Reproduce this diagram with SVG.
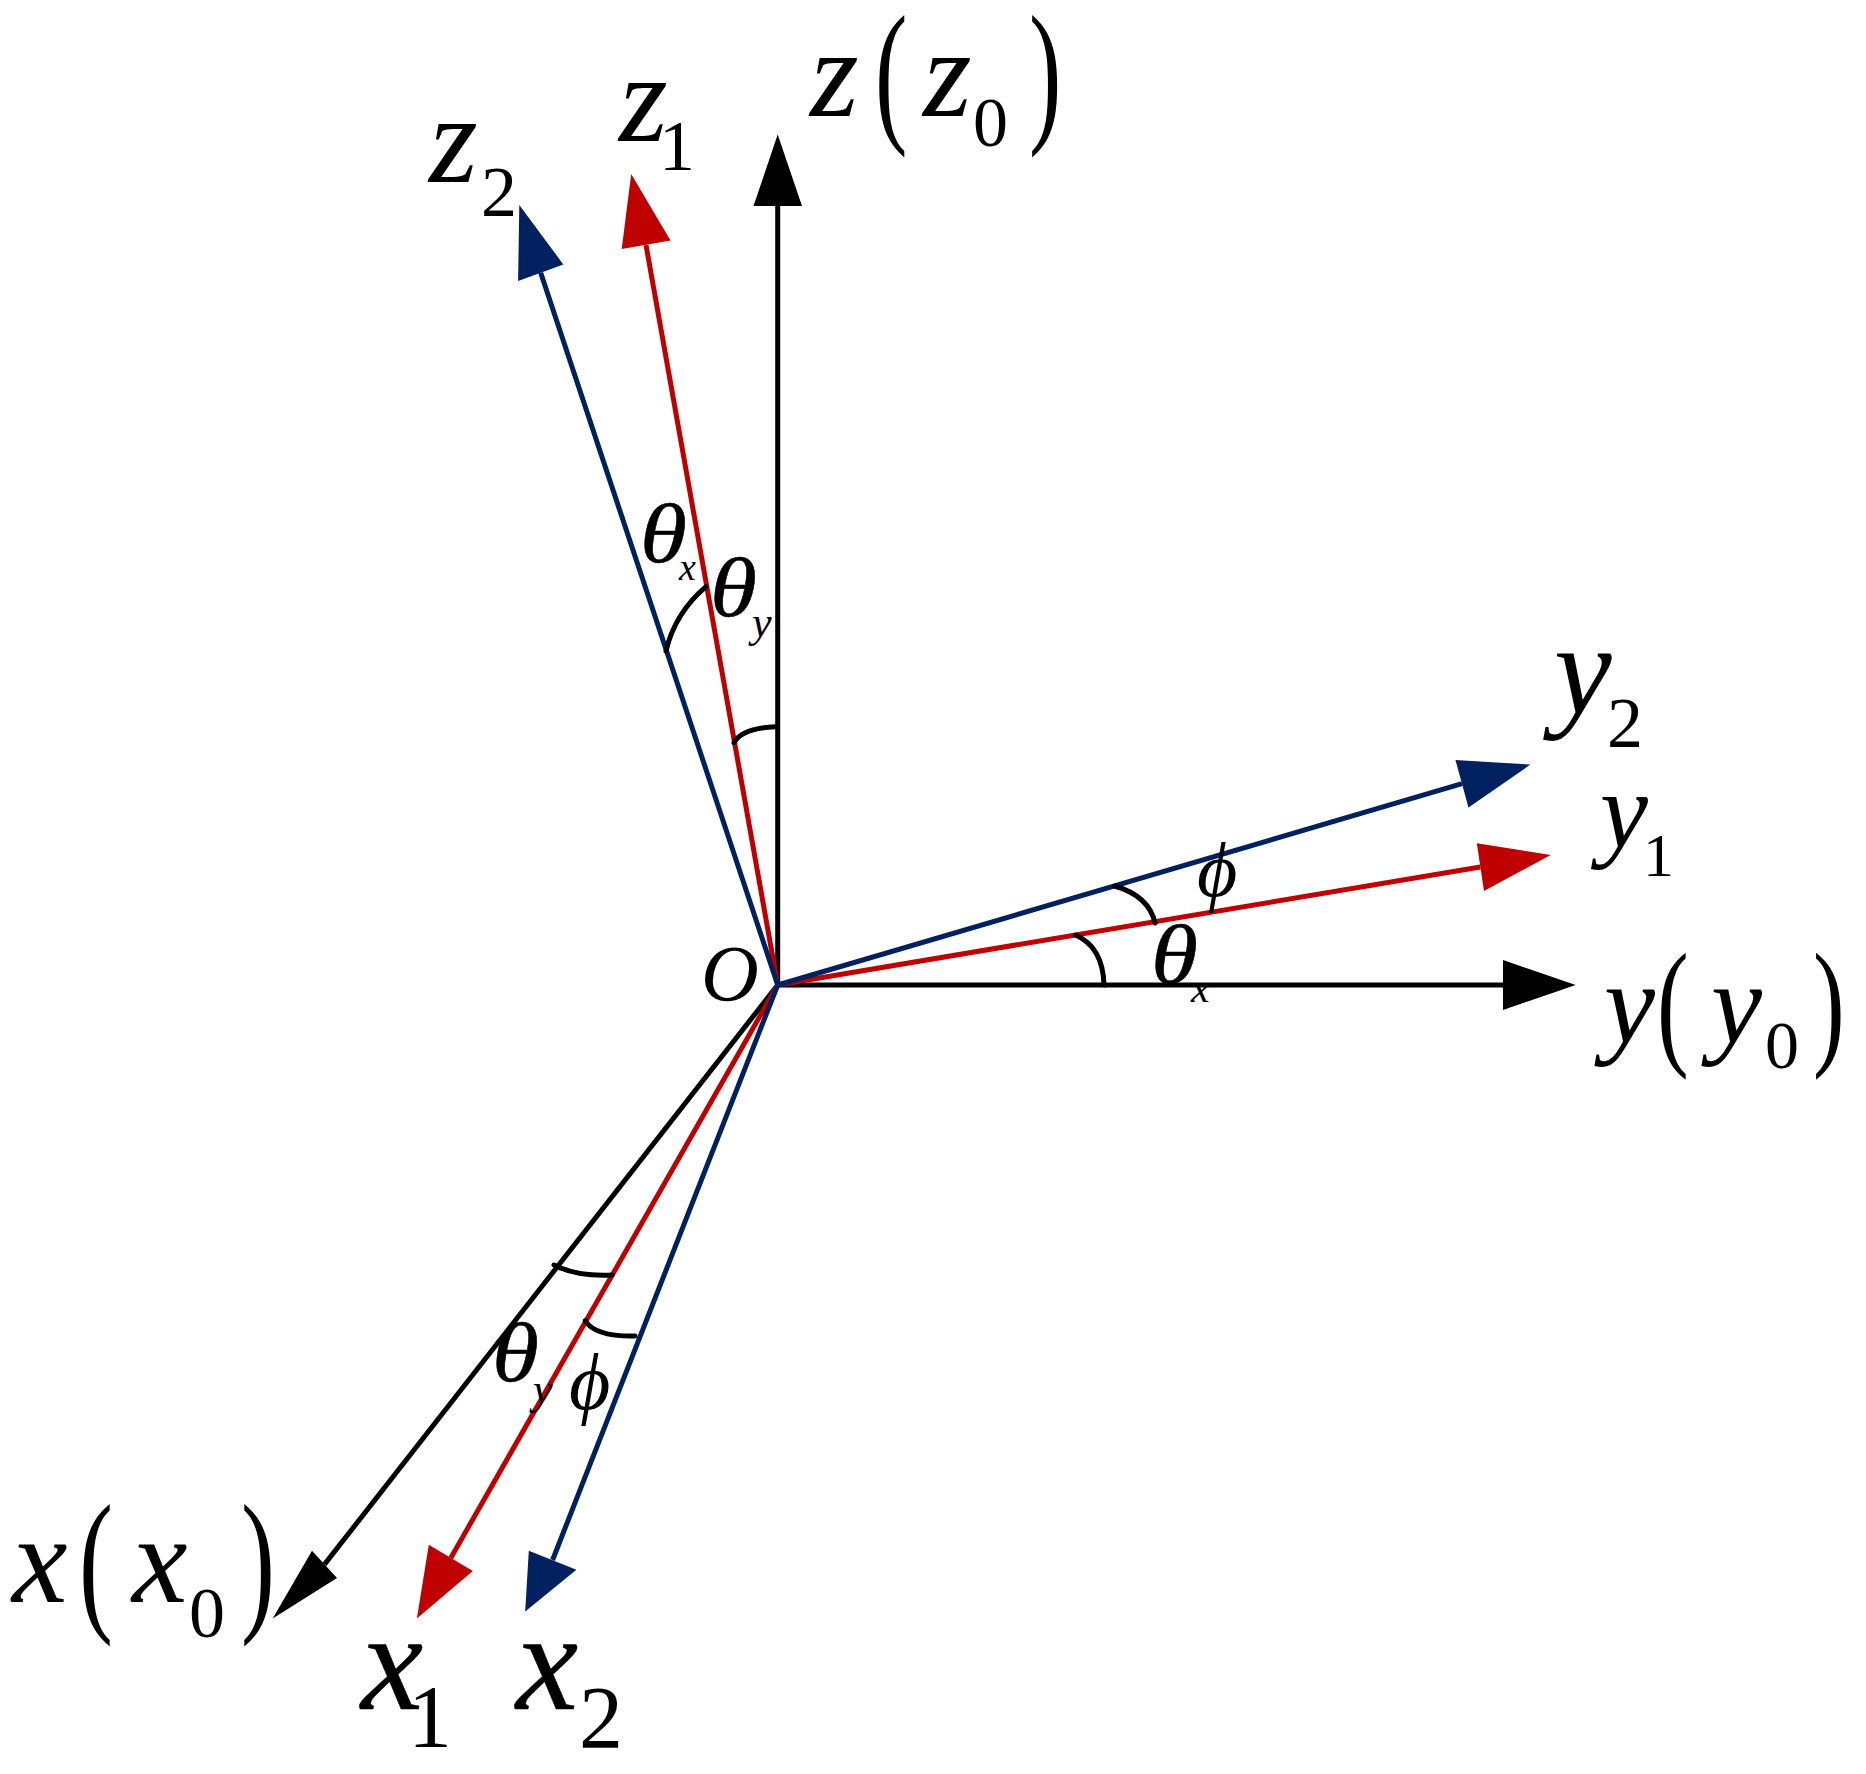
<svg xmlns="http://www.w3.org/2000/svg" width="1866" height="1774" viewBox="0 0 1866 1774">
<style>
text{font-family:"Liberation Serif","Times New Roman",serif;fill:#000}
.i{font-style:italic}
.g{font-style:italic;stroke:#000;stroke-width:.5}
.ax{fill:none;stroke-width:5}
.k{stroke:#000}.r{stroke:#C00000}.n{stroke:#002060}
.fk{fill:#000}.fr{fill:#C00000}.fn{fill:#002060}
.arc{fill:none;stroke:#000;stroke-width:5;stroke-linecap:round}
</style>
<rect width="1866" height="1774" fill="#fff"/>
<g id="connectors">
<path class="ax k" d="M777.7 985V206"/><polygon class="fk" points="777.7,134.6 753.5,206 802,206"/>
<path class="ax k" d="M777.7 985H1503"/><polygon class="fk" points="1575.7,985 1503,960 1503,1010"/>
<path class="ax k" d="M777.7 985L324.5 1564.4"/><polygon class="fk" points="272.7,1618.6 312,1550.7 337,1578"/>
<path class="ax r" d="M777.7 985L646 245"/><polygon class="fr" points="631.2,173.9 621.7,248.9 670.5,240.6"/>
<path class="ax r" d="M777.7 985L1480.4 867"/><polygon class="fr" points="1550.7,855.1 1476.8,843.2 1484,890.9"/>
<path class="ax r" d="M777.7 985L450.8 1557.9"/><polygon class="fr" points="416.9,1618.6 428.8,1544.7 472.8,1571"/>
<path class="ax n" d="M777.7 985L540.7 272.7"/><polygon class="fn" points="519.3,204.9 518.1,281.1 563.3,264.4"/>
<path class="ax n" d="M777.7 985L1462 783.7"/><polygon class="fn" points="1530.4,764.6 1455.4,759.9 1468.5,807.5"/>
<path class="ax n" d="M777.7 985L552.6 1560"/><polygon class="fn" points="525.2,1611.4 528.8,1550.7 576.4,1569.8"/>
<path class="arc" d="M666 651Q675 613 706 586.7"/>
<path class="arc" d="M734 742.7Q741.7 728 775.7 726.7"/>
<path class="arc" d="M554 1265Q576.7 1276.7 612.3 1275"/>
<path class="arc" d="M585.3 1320.7Q595 1336.7 635 1336"/>
<path class="arc" d="M1114.8 886Q1149 896 1155 923"/>
<path class="arc" d="M1075.5 935Q1103 947 1104 985"/>
</g>
<g id="node-z">
<text class="i" x="810" y="116" font-size="125">z</text>
<text transform="translate(875 124) scale(.62 1)" font-size="157">(</text>
<text class="i" x="923" y="116" font-size="125">z</text>
<text x="973" y="146" font-size="70">0</text>
<text transform="translate(1029 124) scale(.62 1)" font-size="157">)</text>
</g>
<g id="node-z1"><text class="i" x="619" y="141" font-size="125">z</text><text x="659" y="170" font-size="72">1</text></g>
<g id="node-z2"><text class="i" x="429" y="182" font-size="125">z</text><text x="481" y="216" font-size="72">2</text></g>
<g id="node-y"><text class="i" x="1604" y="1043" font-size="115">y</text>
<text transform="translate(1657 1050) scale(.68 1)" font-size="140">(</text>
<text class="i" x="1711" y="1043" font-size="115">y</text>
<text x="1765" y="1068" font-size="68">0</text>
<text transform="translate(1813 1050) scale(.68 1)" font-size="140">)</text></g>
<g id="node-y1"><text class="i" x="1600" y="847" font-size="108">y</text><text x="1643" y="876" font-size="62">1</text></g>
<g id="node-y2"><text class="i" x="1554" y="713" font-size="130">y</text><text x="1607" y="747" font-size="72">2</text></g>
<g id="node-x"><text class="i" x="12" y="1602" font-size="125">x</text>
<text transform="translate(79 1613) scale(.65 1)" font-size="157">(</text>
<text class="i" x="132" y="1602" font-size="125">x</text>
<text x="189" y="1637" font-size="72">0</text>
<text transform="translate(241 1613) scale(.65 1)" font-size="157">)</text></g>
<g id="node-x1"><text class="g" x="361" y="1709" font-size="140">x</text><text x="408" y="1746" font-size="88">1</text></g>
<g id="node-x2"><text class="g" x="516" y="1709" font-size="140">x</text><text x="579" y="1747" font-size="88">2</text></g>
<g id="node-O"><text class="i" x="701" y="1001" font-size="80">O</text></g>
<g id="label-theta-x-z"><text class="g" x="640" y="562" font-size="84" textLength="47" lengthAdjust="spacingAndGlyphs">θ</text><text class="i" x="679" y="580" font-size="38">x</text></g>
<g id="label-theta-y-z"><text class="g" x="710" y="616" font-size="84" textLength="47" lengthAdjust="spacingAndGlyphs">θ</text><text class="i" x="752" y="637" font-size="44">y</text></g>
<g id="label-theta-x-y"><text class="g" x="1151" y="983" font-size="84" textLength="47" lengthAdjust="spacingAndGlyphs">θ</text><text class="i" x="1191" y="1002" font-size="42">x</text></g>
<g id="label-phi-y"><text class="i" x="1197" y="896" font-size="78">ϕ</text></g>
<g id="label-theta-y-x"><text class="g" x="492" y="1381" font-size="84" textLength="47" lengthAdjust="spacingAndGlyphs">θ</text><text class="i" x="533" y="1404" font-size="44">y</text></g>
<g id="label-phi-x"><text class="i" x="569" y="1409" font-size="80">ϕ</text></g>
</svg>
